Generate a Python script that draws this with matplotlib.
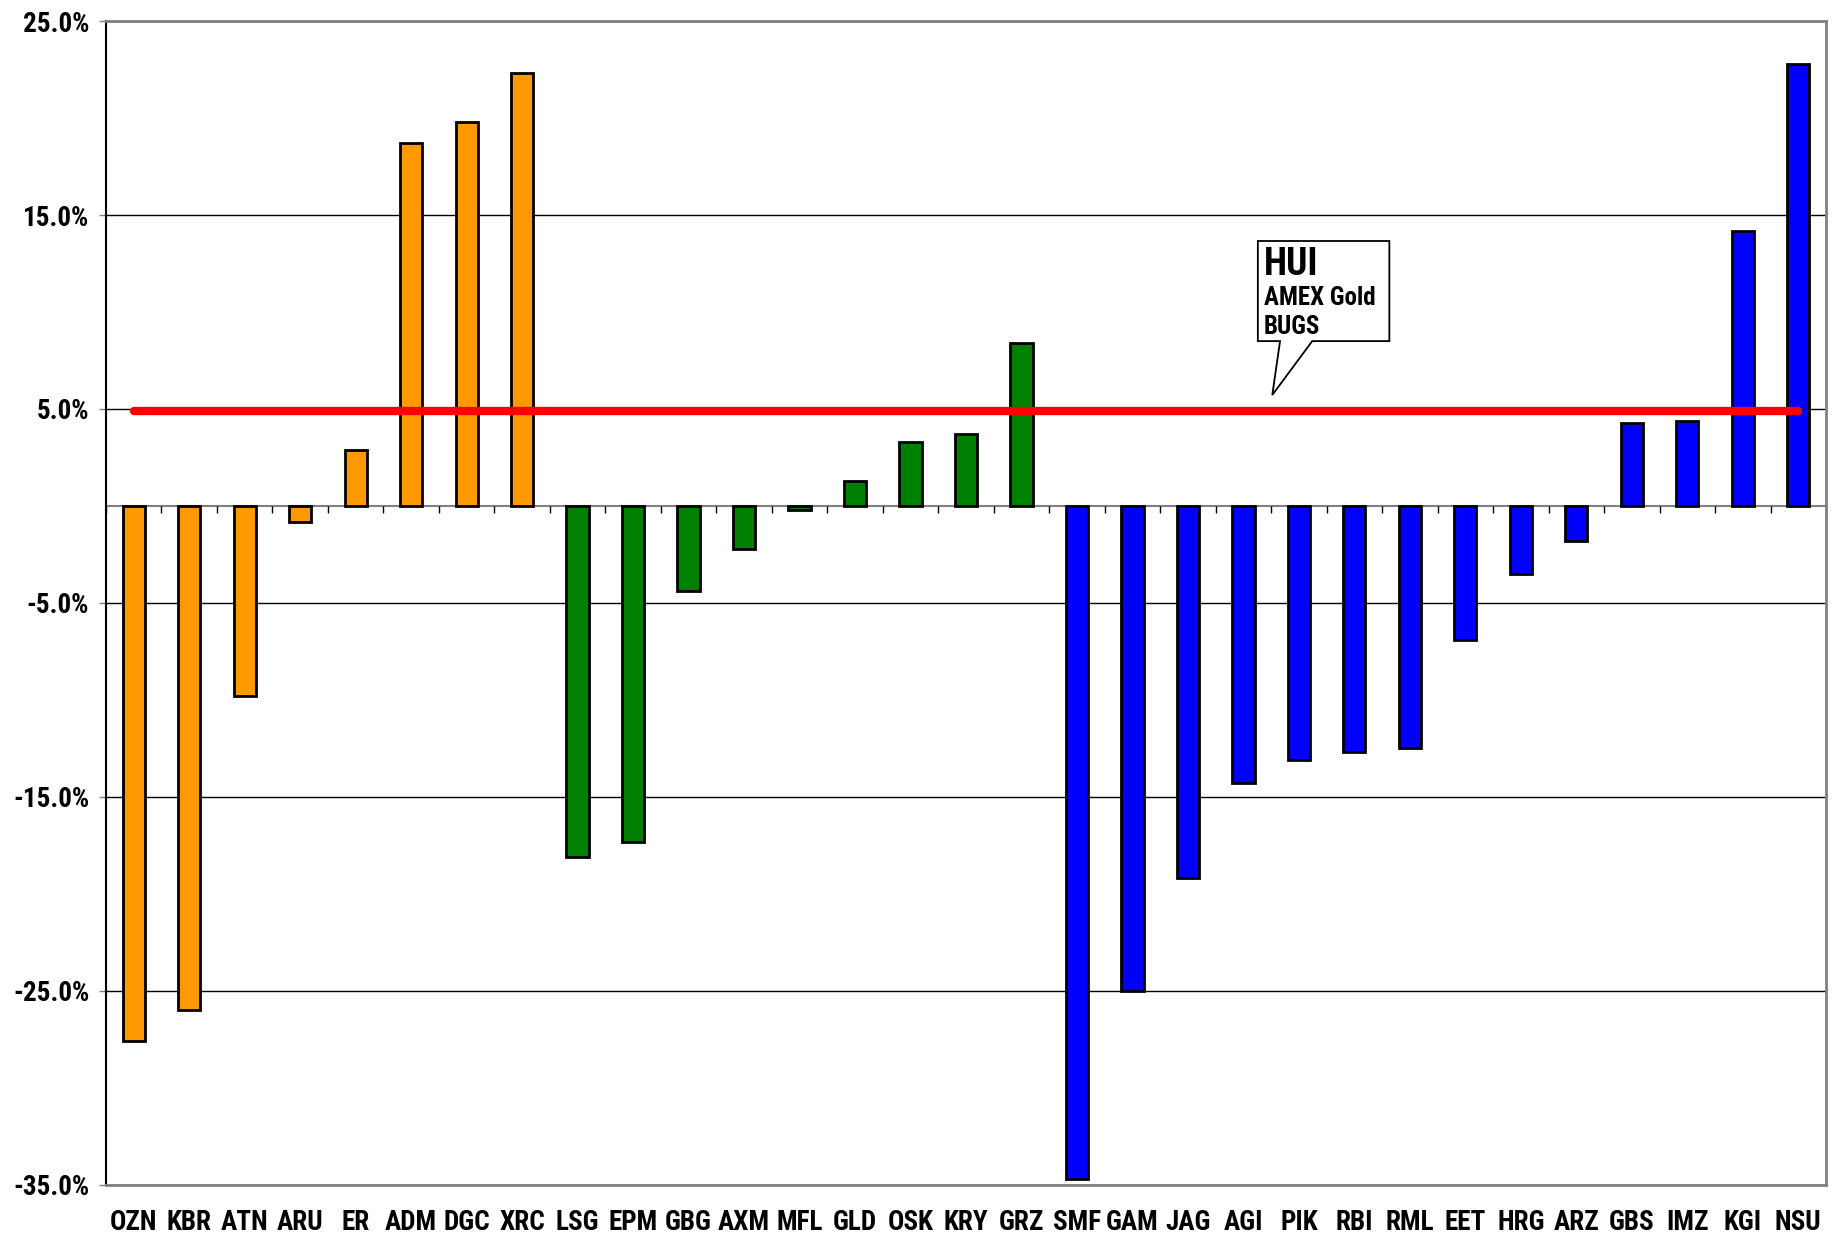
import numpy as np
import matplotlib
matplotlib.use("Agg")
import matplotlib.pyplot as plt
from matplotlib.patches import Polygon

# datos
tickers = ["OZN", "KBR", "ATN", "ARU", "ER", "ADM", "DGC", "XRC",
           "LSG", "EPM", "GBG", "AXM", "MFL", "GLD", "OSK", "KRY", "GRZ",
           "SMF", "GAM", "JAG", "AGI", "PIK", "RBI", "RML", "EET", "HRG",
           "ARZ", "GBS", "IMZ", "KGI", "NSU"]
cambios = [-27.6, -26.0, -9.8, -0.8, 2.9, 18.7, 19.8, 22.3,
           -18.1, -17.3, -4.4, -2.2, -0.2, 1.3, 3.3, 3.7, 8.4,
           -34.7, -25.0, -19.2, -14.3, -13.1, -12.7, -12.5, -6.9, -3.5,
           -1.8, 4.3, 4.4, 14.2, 22.8]
grupos = ["orange"] * 8 + ["green"] * 9 + ["blue"] * 14
hui = 4.9
colores = {"orange": "#FF9900", "green": "#008000", "blue": "#0000FF"}

fuente = ["Liberation Sans Narrow", "Arial Narrow", "Roboto Condensed",
          "Archivo Narrow", "Liberation Sans", "DejaVu Sans"]

fig = plt.figure(figsize=(18.33, 12.36), dpi=100)
ax = fig.add_axes([0.0578, 0.0413, 0.9384, 0.9417])

x = np.arange(len(tickers))

ax.bar(
    x,
    cambios,
    width=0.4,
    color=[colores[g] for g in grupos],
    edgecolor="black",
    linewidth=2.0,
    zorder=3
)

# linea del HUI
ax.plot([x[0], x[-1]], [hui, hui], color="#FF0000", linewidth=6,
        solid_capstyle="round", zorder=4)

ax.set_xlim(-0.5, len(tickers) - 0.5)
ax.set_ylim(-35, 25)

ticks_y = np.arange(-35, 26, 10)
ax.set_yticks(ticks_y)
ax.set_yticklabels([f"{t:.1f}%" for t in ticks_y])
ax.grid(axis="y", color="black", linewidth=1.0, zorder=0)

ax.set_xticks(x)
ax.set_xticklabels(tickers)

# linea de cero y marcas entre categorias
ax.axhline(0, color="#808080", linewidth=1.5, zorder=2)
limites = np.arange(len(tickers) + 1) - 0.5
ax.vlines(limites, -0.35, 0, color="black", linewidth=1.0, zorder=2)

ax.tick_params(axis="x", length=0, pad=17)
ax.tick_params(axis="y", length=5, width=1.0, pad=7, color="#808080")
for etiqueta in ax.get_xticklabels() + ax.get_yticklabels():
    etiqueta.set_family(fuente)
    etiqueta.set_fontweight("bold")
    etiqueta.set_fontsize(19.5)

ax.spines["left"].set_color("black")
ax.spines["left"].set_linewidth(1.5)
for lado in ["top", "right", "bottom"]:
    ax.spines[lado].set_color("#808080")
    ax.spines[lado].set_linewidth(2.0)

# globo del HUI
globo = Polygon(
    [(20.26, 13.66), (22.63, 13.66), (22.63, 8.5), (21.24, 8.5),
     (20.52, 5.72), (20.66, 8.5), (20.26, 8.5)],
    closed=True, facecolor="white", edgecolor="black", linewidth=1.3,
    zorder=5
)
ax.add_patch(globo)
ax.text(20.37, 12.45, "HUI", family=fuente, fontweight="bold",
        fontsize=27, va="center", ha="left", zorder=6)
ax.text(20.37, 10.7, "AMEX Gold", family=fuente, fontweight="bold",
        fontsize=18, va="center", ha="left", zorder=6)
ax.text(20.37, 9.25, "BUGS", family=fuente, fontweight="bold",
        fontsize=18, va="center", ha="left", zorder=6)

plt.savefig("out.png", dpi=100)
plt.close()
